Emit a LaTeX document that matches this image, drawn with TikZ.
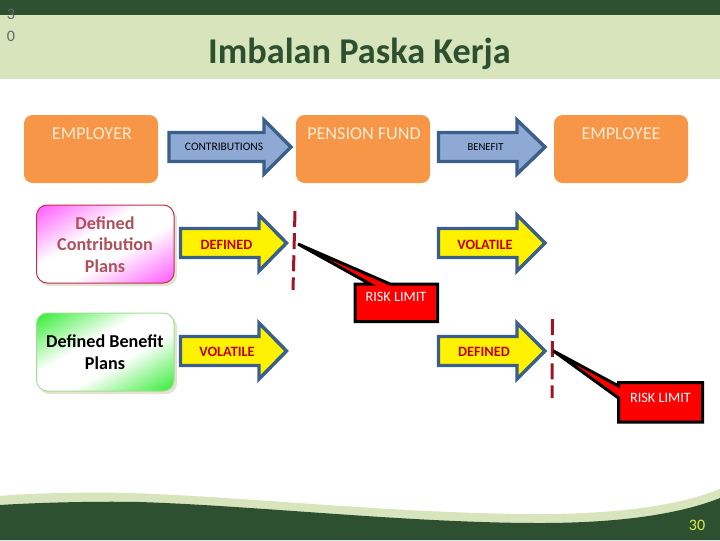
\documentclass[tikz,border=0pt]{standalone}
\usepackage{fontspec}
\setmainfont{Carlito}
\usetikzlibrary{calc}
\definecolor{hdark}{HTML}{2D5030}
\definecolor{hlight}{HTML}{D8E4BC}
\definecolor{orangebox}{HTML}{F79646}
\definecolor{cream}{HTML}{FDEBD5}
\definecolor{bluefill}{HTML}{8EAAD4}
\definecolor{blueline}{HTML}{3A5F8A}
\definecolor{dashred}{HTML}{A01525}
\definecolor{labred}{HTML}{C00000}
\definecolor{pinktxt}{HTML}{B0505A}
\definecolor{pinkline}{HTML}{C0304A}
\definecolor{greenline}{HTML}{A0E090}
\definecolor{shadowc}{HTML}{E4E2D4}
\definecolor{pagenum}{HTML}{D8F048}
\definecolor{pinkend}{HTML}{FF66FF}
\definecolor{greenend}{HTML}{44EE44}
\pgfdeclarehorizontalshading{pinkdiag}{100bp}{color(0bp)=(pinkend);color(18bp)=(pinkend);color(42bp)=(white);color(58bp)=(white);color(82bp)=(pinkend);color(100bp)=(pinkend)}
\pgfdeclarehorizontalshading{greendiag}{100bp}{color(0bp)=(greenend);color(18bp)=(greenend);color(42bp)=(white);color(58bp)=(white);color(82bp)=(greenend);color(100bp)=(greenend)}
\tikzset{
  orangebox/.style={fill=orangebox,rounded corners=6.4pt},
  toptext/.style={text=cream,font=\fontsize{13.6pt}{15pt}\selectfont,inner sep=0pt},
  planshadow/.style={fill=shadowc,rounded corners=8pt},
  planbox/.style={rounded corners=8pt,line width=0.75pt},
  plantext/.style={font=\fontsize{13.6pt}{16.2pt}\selectfont\bfseries,align=center,inner sep=0pt},
  bluearrow/.style={fill=bluefill,draw=blueline,line width=2.6pt,miter limit=10},
  yellowarrow/.style={fill=yellow,draw=blueline,line width=2.6pt,miter limit=10},
  smalltext/.style={text=black,inner sep=0pt},
  yellowtext/.style={text=labred,font=\fontsize{10.7pt}{12pt}\selectfont\bfseries,inner sep=0pt},
  risk/.style={fill=red,draw=black,line width=2.25pt,line join=miter,miter limit=4},
  risktext/.style={text=white,font=\fontsize{10.7pt}{12pt}\selectfont,inner sep=0pt},
  limitline/.style={draw=dashred,line width=2.25pt,dash pattern=on 12pt off 4.6pt},
  cornerdigit/.style={inner sep=0pt,text=black!60,font=\fontsize{12pt}{14pt}\selectfont}
}
% left x, head x, tip x, centre y, half body, half head, style
\newcommand{\blockarrow}[7]{\draw[#7] (#1,#4-#5) -- (#2,#4-#5) -- (#2,#4-#6) -- (#3,#4) -- (#2,#4+#6) -- (#2,#4+#5) -- (#1,#4+#5) -- cycle;}
\begin{document}
\begin{tikzpicture}[x=0.75pt,y=-0.75pt]
\useasboundingbox (0,0) rectangle (720,540);
% header
\fill[hlight] (0,15) rectangle (720,79);
\fill[hdark] (0,0) rectangle (720,15);
\node[cornerdigit] (pa) at (11,14) {3};
\node[cornerdigit] (pb) at (11,36.5) {0};
\node[inner sep=0pt,text=hdark,font=\fontsize{27.2pt}{30pt}\selectfont\bfseries] (title) at (359.5,53.5) {Imbalan Paska Kerja};
% footer wave
\fill[hlight] (0,496) .. controls (30,493) and (90,492) .. (130,493)
  .. controls (250,497) and (400,514) .. (540,514)
  .. controls (620,514) and (680,505) .. (720,489) -- (720,540) -- (0,540) -- cycle;
\fill[hdark] (0,505) .. controls (30,503) and (90,501) .. (140,502)
  .. controls (260,506) and (410,523) .. (540,523)
  .. controls (620,523) and (680,514) .. (720,498) -- (720,540) -- (0,540) -- cycle;
\node[inner sep=0pt,text=pagenum,font=\fontsize{12pt}{14pt}\selectfont] (pnum) at (697,525) {30};
% orange boxes
\fill[orangebox] (24,115) rectangle (158,183);
\fill[orangebox] (296,115) rectangle (430,183);
\fill[orangebox] (554,115) rectangle (688,183);
\node[toptext] (employer) at (92,134) {EMPLOYER};
\node[toptext] (pension) at (364,134) {PENSION FUND};
\node[toptext] (employee) at (621,134) {EMPLOYEE};
% blue arrows
\blockarrow{169}{264}{291}{147}{14.5}{27}{bluearrow}
\blockarrow{438.5}{517}{545}{147}{14.5}{27}{bluearrow}
\node[smalltext,font=\fontsize{8.6pt}{10pt}\selectfont] (contrib) at (224,146.5) {CONTRIBUTIONS};
\node[smalltext,font=\fontsize{8pt}{10pt}\selectfont] (benefit) at (485.5,147) {BENEFIT};
% plan boxes
\fill[planshadow] (39,208) rectangle (177,286);
\shade[planbox,draw=pinkline,shading=pinkdiag,shading angle=-60] (36.5,205) rectangle (174,283);
\node[plantext,text=pinktxt] (dc) at (105,244.5) {Defined\\Contribution\\Plans};
\fill[planshadow] (39,316) rectangle (177,394);
\shade[planbox,draw=greenline,shading=greendiag,shading angle=-60] (36.5,313) rectangle (174,391);
\node[plantext,text=black] (db) at (105,352) {Defined Benefit\\Plans};
% yellow arrows
\blockarrow{180.5}{259}{286.5}{243}{14.5}{28}{yellowarrow}
\blockarrow{180.5}{259}{286.5}{351}{14.5}{28}{yellowarrow}
\blockarrow{438.5}{517}{545}{243}{14.5}{28}{yellowarrow}
\blockarrow{438.5}{517}{545}{351}{14.5}{28}{yellowarrow}
\node[yellowtext] (ya) at (226.5,244.5) {DEFINED};
\node[yellowtext] (yb) at (227,352) {VOLATILE};
\node[yellowtext] (yc) at (485,244.5) {VOLATILE};
\node[yellowtext] (yd) at (484,352) {DEFINED};
% limit lines
\coordinate (la1) at (295,211); \coordinate (la2) at (293,290);
\coordinate (lb1) at (552.5,319); \coordinate (lb2) at (552,398);
\draw[limitline] (la1) -- (la2);
\draw[limitline] (lb1) -- (lb2);
% risk callouts
\coordinate (ta) at (298,244);
\draw[risk] (355,284) -- (370,284) -- (ta) -- (390,284) -- (437.5,284) -- (437.5,321.5) -- (355,321.5) -- cycle;
\node[risktext] (ra) at (396,297) {RISK LIMIT};
\coordinate (tb) at (553.5,351);
\draw[risk] (618.5,382.5) -- (702.5,382.5) -- (702.5,422) -- (618.5,422) -- (618.5,398) -- (tb) -- (618.5,386) -- cycle;
\node[risktext] (rb) at (660.5,398) {RISK LIMIT};
\end{tikzpicture}
\end{document}
